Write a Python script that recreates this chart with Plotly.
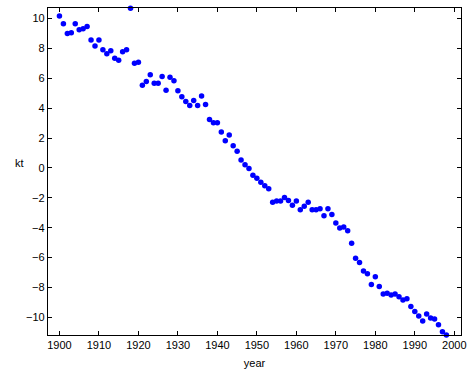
import plotly.graph_objects as go

years = list(range(1900, 2000))
kt = [
    10.16, 9.64, 9.00, 9.04, 9.64, 9.24, 9.31, 9.47, 8.56, 8.16,
    8.56, 7.91, 7.64, 7.84, 7.33, 7.20, 7.78, 7.91, 10.68, 7.00,
    7.07, 5.53, 5.78, 6.24, 5.67, 5.67, 6.11, 5.20, 6.07, 5.84,
    5.16, 4.76, 4.44, 4.18, 4.51, 4.18, 4.82, 4.24, 3.24, 3.02,
    3.02, 2.40, 1.82, 2.20, 1.49, 1.11, 0.53, 0.22, -0.04, -0.49,
    -0.69, -0.96, -1.20, -1.40, -2.29, -2.22, -2.22, -1.98, -2.18, -2.49,
    -2.22, -2.80, -2.56, -2.29, -2.80, -2.80, -2.73, -3.20, -2.73, -3.11,
    -3.69, -4.02, -3.96, -4.20, -5.04, -6.04, -6.33, -6.89, -7.09, -7.80,
    -7.29, -7.93, -8.44, -8.38, -8.51, -8.44, -8.62, -8.84, -8.76, -9.27,
    -9.60, -9.91, -10.24, -9.78, -10.04, -10.11, -10.49, -10.96, -11.18, -11.24,
]

x_ticks = list(range(1900, 2001, 10))
y_ticks = list(range(-10, 11, 2))

fig = go.Figure(
    go.Scatter(
        x=years, y=kt, mode="markers",
        marker=dict(color="#0000ff", size=5.5, line=dict(width=0)),
        cliponaxis=False,
    )
)

axis_style = dict(
    showgrid=False, zeroline=False, showline=True, linecolor="black",
    linewidth=1.3, mirror="ticks", ticks="inside", ticklen=4,
    tickcolor="black", tickwidth=1,
    tickfont=dict(family="Liberation Sans, Arial", size=11, color="black"),
)

fig.update_xaxes(range=[1897.1, 2001.7], tickvals=x_ticks, **axis_style,
                 title=dict(text="year", standoff=8,
                            font=dict(family="Liberation Sans, Arial", size=11, color="black")))
fig.update_yaxes(range=[-11.18, 10.7], tickvals=y_ticks, **axis_style)

fig.add_annotation(text="kt", xref="paper", yref="y", x=-0.07, y=0.3,
                   showarrow=False, xanchor="center",
                   font=dict(family="Liberation Sans, Arial", size=11, color="black"))

fig.update_layout(
    width=473, height=374,
    margin=dict(l=48, r=7, t=7, b=39),
    paper_bgcolor="white", plot_bgcolor="white",
    showlegend=False,
)

fig.write_html("out.html")
